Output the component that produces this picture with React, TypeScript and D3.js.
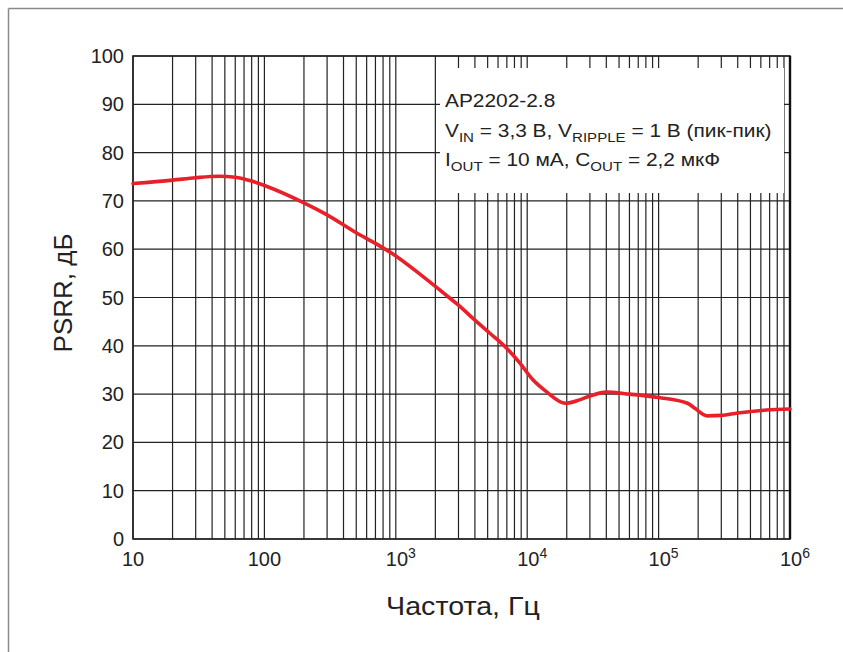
import React from "react";
import * as d3 from "d3";

const freqs = [10, 20, 30, 45, 60, 80, 100, 200, 300, 500, 700, 1000, 1500, 2000, 2240, 3000, 4000, 5200, 6800, 8800, 11100, 14000, 19500, 25000, 30000, 40000, 60000, 100000, 166000, 190000, 234000, 300000, 400000, 660000, 1000000];
const psrr = [73.6, 74.3, 74.8, 75.1, 74.9, 74.1, 73.2, 69.6, 67.1, 63.4, 61.2, 58.6, 55.0, 52.3, 51.2, 48.4, 45.3, 42.6, 39.8, 36.4, 32.9, 30.5, 28.1, 28.8, 29.6, 30.4, 30.0, 29.3, 28.1, 27.0, 25.5, 25.6, 26.1, 26.7, 26.9];
const yTicks = [0, 10, 20, 30, 40, 50, 60, 70, 80, 90, 100];
const xDecades = [10, 100, 1000, 10000, 100000, 1000000];
const xTickBase = ["10", "100", "10", "10", "10", "10"];
const xTickExp = ["", "", "3", "4", "5", "6"];
const legendTitle = "AP2202-2.8";

const L = 133, R = 790, T = 56, B = 539;
const FONT = "'Liberation Sans', Arial, sans-serif";

export default function App() {
  const x = d3.scaleLog().domain([10, 1e6]).range([L, R]);
  const y = d3.scaleLinear().domain([0, 100]).range([B, T]);

  const minorX: number[] = [];
  for (let d = 10; d < 1e6; d *= 10) {
    for (let m = 1; m <= 9; m++) minorX.push(d * m);
  }
  minorX.push(1e6);

  const pts: [number, number][] = freqs.map((f, i) => [x(f), y(psrr[i])]);
  const line = d3.line().curve(d3.curveMonotoneX)(pts) || "";

  return (
    <svg width={843} height={652} style={{ position: "absolute", left: 0, top: 0, background: "#fff" }}>
      <line x1={8.5} x2={843} y1={8.5} y2={8.5} stroke="#8a8a8a" strokeWidth={1.5} />
      <line x1={8.5} x2={8.5} y1={8.5} y2={652} stroke="#8a8a8a" strokeWidth={1.5} />
      {minorX.map((f, i) => (
        <line key={"v" + i} x1={x(f)} x2={x(f)} y1={T} y2={B} stroke="#222" strokeWidth={1.2} />
      ))}
      {yTicks.map((t) => (
        <line key={"h" + t} x1={L} x2={R} y1={y(t)} y2={y(t)} stroke="#222" strokeWidth={1.2} />
      ))}
      <rect x={440} y={68} width={344} height={125} fill="#fff" />
      <rect x={L} y={T} width={R - L} height={B - T} fill="none" stroke="#222" strokeWidth={1.6} />
      <line x1={R} x2={R} y1={T} y2={B} stroke="#111" strokeWidth={2.4} />
      <path d={line} fill="none" stroke="#e8202a" strokeWidth={3.6} strokeLinejoin="round" strokeLinecap="round" />
      {yTicks.map((t) => (
        <text key={"yl" + t} x={124} y={y(t)} dy="0.35em" textAnchor="end" fontFamily={FONT} fontSize={20} fill="#222">
          {t}
        </text>
      ))}
      {xDecades.map((f, i) => (
        <text key={"xl" + i} x={x(f) + (xTickExp[i] ? 5 : 0)} y={566} textAnchor="middle" fontFamily={FONT} fontSize={20} fill="#222">
          {xTickBase[i]}
          {xTickExp[i] ? (
            <tspan dy={-8} fontSize={14}>{xTickExp[i]}</tspan>
          ) : null}
        </text>
      ))}
      <g transform="translate(463,615) scale(1.1,1)">
        <text x={0} y={0} textAnchor="middle" fontFamily={FONT} fontSize={26} fill="#222">
          Частота, Гц
        </text>
      </g>
      <text transform="translate(72,293) rotate(-90)" textAnchor="middle" fontFamily={FONT} fontSize={26} fill="#222">
        PSRR, дБ
      </text>
      <g transform="translate(445,0) scale(1.16,1)" fontFamily={FONT} fontSize={18} fill="#222">
        <text x={0} y={107}>{legendTitle}</text>
        <text x={0} y={137}>
          V<tspan dy={5} fontSize={13}>IN</tspan>
          <tspan dy={-5}> = 3,3 В, V</tspan>
          <tspan dy={5} fontSize={13}>RIPPLE</tspan>
          <tspan dy={-5}> = 1 В (пик-пик)</tspan>
        </text>
        <text x={0} y={166}>
          I<tspan dy={5} fontSize={13}>OUT</tspan>
          <tspan dy={-5}> = 10 мА, C</tspan>
          <tspan dy={5} fontSize={13}>OUT</tspan>
          <tspan dy={-5}> = 2,2 мкФ</tspan>
        </text>
      </g>
    </svg>
  );
}
